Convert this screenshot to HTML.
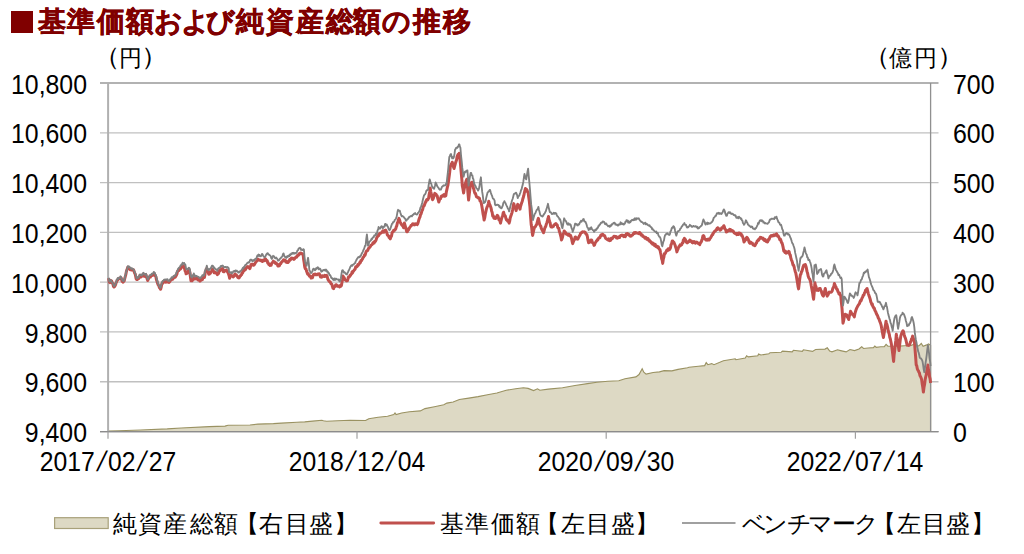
<!DOCTYPE html>
<html lang="ja"><head><meta charset="utf-8">
<style>
html,body{margin:0;padding:0;background:#fff;}
body{width:1024px;height:554px;position:relative;overflow:hidden;font-family:"Liberation Sans",sans-serif;color:#000;}
.sq{position:absolute;left:11px;top:11px;width:21.5px;height:21.5px;background:#800000;}
.yl{position:absolute;left:0;width:87px;text-align:right;font-size:27px;line-height:30px;transform:scaleX(0.92);transform-origin:87px 50%;}
.yr{position:absolute;left:952.5px;font-size:27px;line-height:30px;transform:scaleX(0.924);transform-origin:0 50%;}
.xl{position:absolute;top:447px;width:160px;text-align:center;font-size:27px;line-height:30px;white-space:nowrap;transform:scaleX(0.915);}
.sl{display:inline-block;width:14.4px;text-align:center;transform:scaleY(1.05) skewX(-16deg);}
svg{position:absolute;left:0;top:0;}
.grp{position:absolute;left:0;top:0;}
.c0{position:absolute;text-align:center;white-space:nowrap;top:0.0px;width:42px;height:44px;line-height:44px;font-size:28px;font-weight:bold;color:#800000;-webkit-text-stroke:0.5px #800000}
.c1{position:absolute;text-align:center;white-space:nowrap;top:504.6px;width:36px;height:38px;line-height:38px;font-size:24px;font-weight:normal;color:#000;}
.c2{position:absolute;text-align:center;white-space:nowrap;top:504.6px;width:36px;height:38px;line-height:38px;font-size:24px;font-weight:normal;color:#000;}
.c3{position:absolute;text-align:center;white-space:nowrap;top:504.6px;width:36px;height:38px;line-height:38px;font-size:24px;font-weight:normal;color:#000;}
.c4{position:absolute;text-align:center;white-space:nowrap;top:41.0px;width:33px;height:36px;line-height:36px;font-size:22.5px;font-weight:normal;color:#000;}
.c5{position:absolute;text-align:center;white-space:nowrap;top:41.1px;width:33px;height:36px;line-height:36px;font-size:22.5px;font-weight:normal;color:#000;}

.g{stroke:#c0c0c0;stroke-width:1.3;fill:none;}
.gt{stroke:#999;stroke-width:1.4;fill:none;}
.gb{stroke:#8c8c8c;stroke-width:1.3;fill:none;}
.ax{stroke:#b0b0b0;stroke-width:2;fill:none;}
.axr{stroke:#909090;stroke-width:1.3;fill:none;}
.tk{stroke:#a0a0a0;stroke-width:1.2;fill:none;}
</style></head><body>
<div class="sq"></div>
<div class="grp"><span class="c0" style="left:30.8px">基</span><span class="c0" style="left:60.3px">準</span><span class="c0" style="left:90.1px">価</span><span class="c0" style="left:118.5px">額</span><span class="c0" style="left:147.3px">お</span><span class="c0" style="left:174.9px">よ</span><span class="c0" style="left:199.6px">び</span><span class="c0" style="left:229.3px">純</span><span class="c0" style="left:259.3px">資</span><span class="c0" style="left:288.6px">産</span><span class="c0" style="left:318.6px">総</span><span class="c0" style="left:346.4px">額</span><span class="c0" style="left:375.6px">の</span><span class="c0" style="left:406.4px">推</span><span class="c0" style="left:436.0px">移</span></div>
<div class="grp"><span class="c1" style="left:107.3px">純</span><span class="c1" style="left:132.4px">資</span><span class="c1" style="left:157.1px">産</span><span class="c1" style="left:183.7px">総</span><span class="c1" style="left:207.5px">額</span><span class="c1" style="left:228.8px">【</span><span class="c1" style="left:252.9px">右</span><span class="c1" style="left:278.8px">目</span><span class="c1" style="left:303.4px">盛</span><span class="c1" style="left:327.9px">】</span></div>
<div class="grp"><span class="c2" style="left:434.2px">基</span><span class="c2" style="left:459.0px">準</span><span class="c2" style="left:485.0px">価</span><span class="c2" style="left:509.5px">額</span><span class="c2" style="left:529.3px">【</span><span class="c2" style="left:554.9px">左</span><span class="c2" style="left:580.1px">目</span><span class="c2" style="left:604.5px">盛</span><span class="c2" style="left:628.9px">】</span></div>
<div class="grp"><span class="c3" style="left:736.2px">ベ</span><span class="c3" style="left:757.1px">ン</span><span class="c3" style="left:781.0px">チ</span><span class="c3" style="left:802.0px">マ</span><span class="c3" style="left:825.9px">ー</span><span class="c3" style="left:848.9px">ク</span><span class="c3" style="left:866.0px">【</span><span class="c3" style="left:890.6px">左</span><span class="c3" style="left:916.0px">目</span><span class="c3" style="left:940.4px">盛</span><span class="c3" style="left:964.8px">】</span></div>
<div class="grp"><span class="c4" style="left:90.6px;transform:translateY(-1.2px) scale(1.2,1.1);transform-origin:22.0px 19.0px">（</span><span class="c4" style="left:113.9px">円</span><span class="c4" style="left:137.0px;transform:translateY(-1.2px) scale(1.2,1.1);transform-origin:11.0px 19.0px">）</span></div>
<div class="grp"><span class="c5" style="left:861.2px;transform:translateY(-1.2px) scale(1.2,1.1);transform-origin:22.0px 19.0px">（</span><span class="c5" style="left:884.1px">億</span><span class="c5" style="left:909.4px">円</span><span class="c5" style="left:932.5px;transform:translateY(-1.2px) scale(1.2,1.1);transform-origin:11.0px 19.0px">）</span></div>

<div class="yl" style="top:69.5px">10,800</div><div class="yr" style="top:69.5px">700</div><div class="yl" style="top:119.3px">10,600</div><div class="yr" style="top:119.3px">600</div><div class="yl" style="top:169.1px">10,400</div><div class="yr" style="top:169.1px">500</div><div class="yl" style="top:218.9px">10,200</div><div class="yr" style="top:218.9px">400</div><div class="yl" style="top:268.7px">10,000</div><div class="yr" style="top:268.7px">300</div><div class="yl" style="top:318.5px">9,800</div><div class="yr" style="top:318.5px">200</div><div class="yl" style="top:368.3px">9,600</div><div class="yr" style="top:368.3px">100</div><div class="yl" style="top:418.1px">9,400</div><div class="yr" style="top:418.1px">0</div>
<div class="xl" style="left:28.0px">2017<span class="sl">/</span>02<span class="sl">/</span>27</div><div class="xl" style="left:277.0px">2018<span class="sl">/</span>12<span class="sl">/</span>04</div><div class="xl" style="left:526.2px">2020<span class="sl">/</span>09<span class="sl">/</span>30</div><div class="xl" style="left:775.4px">2022<span class="sl">/</span>07<span class="sl">/</span>14</div>
<svg width="1024" height="554" viewBox="0 0 1024 554">
<line x1="100" y1="83.00" x2="938.5" y2="83.00" class="gt"/><line x1="100" y1="132.79" x2="938.5" y2="132.79" class="g"/><line x1="100" y1="182.59" x2="938.5" y2="182.59" class="g"/><line x1="100" y1="232.38" x2="938.5" y2="232.38" class="g"/><line x1="100" y1="282.17" x2="938.5" y2="282.17" class="g"/><line x1="100" y1="331.96" x2="938.5" y2="331.96" class="g"/><line x1="100" y1="381.76" x2="938.5" y2="381.76" class="g"/><line x1="100" y1="431.55" x2="938.5" y2="431.55" class="gb"/>
<path d="M108.1,431.55 L108.2,431.1 L118.8,430.8 L140.6,430.0 L167.2,428.9 L181.2,428.0 L209.4,426.6 L225.0,426.1 L228.1,425.3 L250.0,425.0 L257.8,424.1 L273.4,423.6 L281.2,423.1 L296.9,422.3 L304.7,421.9 L312.5,421.1 L321.9,420.3 L323.4,420.8 L326.6,421.2 L337.5,420.8 L350.0,420.3 L365.6,420.5 L368.8,418.8 L378.1,417.3 L387.5,416.2 L393.8,414.5 L395.0,413.0 L396.1,414.5 L401.6,413.0 L409.4,411.7 L420.3,410.9 L425.0,408.6 L434.4,406.7 L443.8,404.7 L446.9,403.1 L453.1,402.0 L459.4,399.5 L468.8,398.1 L478.1,396.6 L487.5,394.8 L496.9,393.0 L506.2,390.3 L515.6,388.8 L523.4,387.8 L528.1,388.4 L533.6,390.6 L537.5,388.8 L539.8,390.2 L548.4,389.1 L562.5,387.8 L575.0,385.5 L587.5,383.6 L596.9,382.3 L607.8,381.2 L618.8,380.8 L625.0,378.8 L635.9,376.9 L639.0,374.5 L642.2,368.8 L643.8,372.2 L646.1,374.1 L653.1,372.5 L659.4,371.9 L664.1,370.6 L671.9,370.9 L678.1,369.4 L687.5,367.8 L689.0,367.2 L698.4,366.2 L704.7,365.6 L706.2,362.5 L707.8,364.7 L711.7,363.6 L714.0,364.7 L723.4,360.8 L735.2,358.8 L735.9,359.7 L745.3,358.1 L746.6,355.8 L748.4,356.9 L757.8,355.8 L758.6,354.1 L760.9,355.0 L768.8,353.8 L770.0,352.7 L781.2,352.2 L782.5,351.1 L792.2,351.9 L793.4,350.3 L802.3,351.4 L803.4,349.8 L812.5,351.4 L815.6,349.5 L825.0,349.1 L827.3,347.8 L829.7,351.0 L832.0,351.9 L837.5,349.8 L840.6,350.6 L846.1,351.9 L850.0,349.5 L854.5,350.6 L859.0,349.0 L861.7,346.7 L863.5,348.5 L868.0,348.0 L873.5,347.6 L874.8,346.1 L876.2,347.3 L880.7,346.7 L884.3,346.7 L886.1,344.4 L887.9,346.2 L893.3,346.2 L899.6,346.1 L904.2,345.8 L911.4,345.5 L915.0,343.5 L918.6,346.1 L921.3,343.5 L923.1,346.2 L926.7,344.9 L928.5,344.0 L930.6,345.3 L930.6,431.55 Z" fill="#ddd9c4" stroke="none"/>
<path d="M108.1,431.55 L108.2,431.1 L118.8,430.8 L140.6,430.0 L167.2,428.9 L181.2,428.0 L209.4,426.6 L225.0,426.1 L228.1,425.3 L250.0,425.0 L257.8,424.1 L273.4,423.6 L281.2,423.1 L296.9,422.3 L304.7,421.9 L312.5,421.1 L321.9,420.3 L323.4,420.8 L326.6,421.2 L337.5,420.8 L350.0,420.3 L365.6,420.5 L368.8,418.8 L378.1,417.3 L387.5,416.2 L393.8,414.5 L395.0,413.0 L396.1,414.5 L401.6,413.0 L409.4,411.7 L420.3,410.9 L425.0,408.6 L434.4,406.7 L443.8,404.7 L446.9,403.1 L453.1,402.0 L459.4,399.5 L468.8,398.1 L478.1,396.6 L487.5,394.8 L496.9,393.0 L506.2,390.3 L515.6,388.8 L523.4,387.8 L528.1,388.4 L533.6,390.6 L537.5,388.8 L539.8,390.2 L548.4,389.1 L562.5,387.8 L575.0,385.5 L587.5,383.6 L596.9,382.3 L607.8,381.2 L618.8,380.8 L625.0,378.8 L635.9,376.9 L639.0,374.5 L642.2,368.8 L643.8,372.2 L646.1,374.1 L653.1,372.5 L659.4,371.9 L664.1,370.6 L671.9,370.9 L678.1,369.4 L687.5,367.8 L689.0,367.2 L698.4,366.2 L704.7,365.6 L706.2,362.5 L707.8,364.7 L711.7,363.6 L714.0,364.7 L723.4,360.8 L735.2,358.8 L735.9,359.7 L745.3,358.1 L746.6,355.8 L748.4,356.9 L757.8,355.8 L758.6,354.1 L760.9,355.0 L768.8,353.8 L770.0,352.7 L781.2,352.2 L782.5,351.1 L792.2,351.9 L793.4,350.3 L802.3,351.4 L803.4,349.8 L812.5,351.4 L815.6,349.5 L825.0,349.1 L827.3,347.8 L829.7,351.0 L832.0,351.9 L837.5,349.8 L840.6,350.6 L846.1,351.9 L850.0,349.5 L854.5,350.6 L859.0,349.0 L861.7,346.7 L863.5,348.5 L868.0,348.0 L873.5,347.6 L874.8,346.1 L876.2,347.3 L880.7,346.7 L884.3,346.7 L886.1,344.4 L887.9,346.2 L893.3,346.2 L899.6,346.1 L904.2,345.8 L911.4,345.5 L915.0,343.5 L918.6,346.1 L921.3,343.5 L923.1,346.2 L926.7,344.9 L928.5,344.0 L930.6,345.3 L930.6,431.55" fill="none" stroke="#9a9262" stroke-width="1.15"/>
<line x1="108.1" y1="83.0" x2="108.1" y2="431.55" class="ax"/>
<line x1="930.6" y1="83.0" x2="930.6" y2="431.55" class="axr"/>
<line x1="100" y1="431.55" x2="938.5" y2="431.55" class="gb"/>
<line x1="108.0" y1="431.55" x2="108.0" y2="438.8" class="tk"/><line x1="357.0" y1="431.55" x2="357.0" y2="438.8" class="tk"/><line x1="606.2" y1="431.55" x2="606.2" y2="438.8" class="tk"/><line x1="855.4" y1="431.55" x2="855.4" y2="438.8" class="tk"/>
<polyline points="108.6,278.3 109.4,282.2 109.9,282.6 110.4,282.0 110.9,280.6 111.6,281.0 112.2,283.0 112.8,283.5 113.4,286.3 114.0,287.0 114.5,286.6 115.1,285.7 115.6,284.6 116.1,282.7 116.7,281.7 117.2,280.0 117.8,279.8 118.3,279.4 118.9,278.2 119.5,278.5 120.0,278.1 120.5,277.8 121.0,277.8 121.6,279.5 122.1,281.3 122.7,281.6 123.2,282.2 123.7,281.2 124.2,280.9 124.7,278.7 125.3,276.3 125.8,274.6 126.3,271.9 126.8,270.0 127.3,269.0 127.8,267.2 128.4,267.3 129.1,267.8 129.7,268.5 130.2,269.7 130.7,269.5 131.2,270.0 131.9,270.0 132.5,269.3 133.1,269.8 133.6,270.0 134.2,271.8 134.7,273.2 135.2,274.1 135.7,276.4 136.2,278.9 136.7,279.5 137.2,279.6 137.8,278.4 138.3,278.8 138.8,278.5 139.3,277.3 139.8,275.6 140.3,276.4 140.9,277.0 141.4,276.5 141.9,276.2 142.5,275.5 143.0,274.2 143.5,274.4 144.0,276.1 144.5,275.7 145.0,276.3 145.6,274.6 146.1,275.0 146.6,277.3 147.2,279.0 147.7,280.5 148.2,279.3 148.7,278.4 149.2,277.3 149.8,276.7 150.4,277.0 151.0,275.6 151.6,275.1 152.2,275.5 152.7,274.3 153.3,275.1 153.8,274.9 154.4,273.9 154.9,274.7 155.4,275.9 155.9,276.7 156.4,279.6 157.0,281.3 157.5,283.0 158.1,284.6 158.8,285.6 159.4,287.7 160.0,288.2 160.6,289.3 161.1,287.6 161.7,284.5 162.2,283.1 162.8,283.3 163.4,281.4 164.0,281.2 164.6,282.0 165.2,280.9 165.8,282.1 166.4,281.3 167.0,281.9 167.6,281.9 168.2,282.2 168.8,282.4 169.3,282.1 169.9,281.4 170.5,280.3 171.1,280.1 171.7,278.9 172.2,278.9 172.8,279.2 173.4,277.8 174.0,277.6 174.6,276.2 175.2,277.2 175.8,276.2 176.4,275.2 176.9,274.1 177.5,271.4 178.1,270.5 178.7,270.6 179.4,268.9 180.0,269.4 180.6,268.9 181.2,267.3 181.8,266.4 182.4,266.1 183.0,267.1 183.5,265.9 184.1,266.9 184.6,268.7 185.1,271.0 185.6,271.6 186.1,273.8 186.6,272.6 187.2,273.2 187.7,271.8 188.2,271.0 188.8,270.9 189.3,269.8 189.9,272.5 190.4,276.8 191.0,280.7 191.6,280.1 192.2,280.7 192.7,280.0 193.3,277.8 193.8,277.5 194.4,279.0 195.0,278.7 195.5,277.7 196.1,278.9 196.6,277.5 197.1,278.3 197.7,278.4 198.2,280.0 198.8,279.3 199.3,279.9 199.9,281.1 200.4,281.0 200.9,279.9 201.4,278.7 201.9,279.1 202.4,279.7 202.9,277.8 203.4,277.3 203.9,277.5 204.4,277.5 204.9,274.9 205.3,271.8 205.8,271.2 206.3,268.9 206.8,268.6 207.3,269.7 207.8,270.5 208.3,272.7 208.8,274.2 209.3,274.1 209.9,273.5 210.4,273.2 210.9,271.8 211.4,271.4 212.0,270.6 212.5,269.0 213.0,270.6 213.6,271.3 214.1,272.6 214.6,272.1 215.2,272.9 215.7,272.6 216.3,273.0 216.8,273.2 217.4,274.7 217.9,273.6 218.5,273.5 219.0,271.8 219.5,270.5 220.0,270.8 220.5,269.8 221.0,269.4 221.6,269.0 222.2,268.6 222.8,269.0 223.3,271.6 223.9,271.8 224.4,270.8 225.0,270.9 225.5,270.2 226.0,270.4 226.5,270.1 227.0,271.5 227.5,271.8 228.0,272.7 228.6,274.2 229.1,275.8 229.6,278.3 230.1,276.6 230.7,275.4 231.2,275.1 231.7,275.9 232.3,276.2 232.8,276.7 233.3,277.0 233.8,276.3 234.3,275.8 234.8,274.2 235.3,274.1 235.9,274.9 236.4,275.0 236.9,275.9 237.4,276.7 238.0,277.5 238.5,277.9 239.0,278.0 239.5,277.3 240.0,275.9 240.5,275.9 241.0,275.0 241.6,274.5 242.1,272.8 242.6,273.0 243.1,271.2 243.7,271.0 244.2,270.2 244.7,269.1 245.3,269.8 245.8,269.0 246.3,267.8 246.9,266.8 247.4,266.9 247.9,266.6 248.4,267.1 248.9,267.4 249.4,268.3 249.9,268.6 250.5,266.5 251.1,264.5 251.6,264.2 252.1,265.0 252.6,264.3 253.1,264.9 253.6,265.3 254.1,265.0 254.6,264.1 255.1,263.3 255.7,262.3 256.2,261.7 256.8,260.8 257.3,260.6 257.9,259.1 258.4,259.6 258.9,259.7 259.5,260.2 260.0,260.4 260.6,260.1 261.1,260.2 261.7,261.2 262.3,261.5 262.8,260.3 263.4,260.3 263.9,260.7 264.5,259.8 265.0,258.8 265.6,258.9 266.1,260.7 266.7,260.5 267.2,260.7 267.7,262.9 268.2,262.7 268.8,264.4 269.3,264.2 269.9,265.4 270.5,265.3 271.1,265.2 271.7,263.3 272.2,263.1 272.8,262.1 273.4,261.2 274.0,261.8 274.6,261.9 275.2,263.2 275.8,263.6 276.3,263.2 276.8,264.0 277.4,264.5 277.9,266.0 278.4,264.7 278.9,265.9 279.5,265.6 280.1,263.8 280.7,263.7 281.2,262.8 281.8,261.8 282.4,261.2 283.0,261.0 283.6,259.7 284.2,260.1 284.8,260.1 285.3,260.7 285.9,262.0 286.4,261.1 287.0,262.4 287.5,261.9 288.0,262.4 288.6,261.7 289.1,261.2 289.7,259.6 290.2,260.0 290.8,259.4 291.4,258.1 291.9,258.7 292.4,258.4 292.9,258.2 293.5,258.6 294.0,259.3 294.5,258.9 295.0,257.8 295.6,257.6 296.1,256.9 296.6,257.2 297.2,256.2 297.7,255.0 298.3,255.4 298.9,254.8 299.4,253.4 300.0,253.4 300.5,253.0 301.0,253.6 301.6,253.3 302.1,253.8 302.6,254.4 303.1,254.2 303.6,259.2 304.2,262.7 304.7,266.7 305.3,268.7 305.9,268.7 306.4,270.6 307.0,272.2 307.6,274.1 308.2,273.5 308.8,275.0 309.4,276.1 310.0,275.7 310.5,276.1 311.1,278.1 311.7,277.7 312.3,277.8 312.9,276.4 313.5,274.6 314.1,274.5 314.7,274.1 315.2,274.0 315.8,274.8 316.4,274.5 317.0,274.7 317.6,274.0 318.2,274.0 318.8,273.8 319.3,273.8 319.9,275.4 320.5,277.0 321.1,276.9 321.7,277.2 322.2,275.7 322.8,276.3 323.4,276.1 323.9,276.4 324.5,275.4 325.0,276.5 325.5,275.5 326.1,275.8 326.6,275.3 327.2,276.5 327.8,279.0 328.3,280.0 328.9,280.8 329.5,281.7 330.1,281.7 330.7,283.0 331.2,283.9 331.8,284.2 332.4,286.4 333.0,288.2 333.6,288.6 334.2,287.0 334.8,286.7 335.3,285.6 335.9,284.7 336.4,284.8 337.0,285.6 337.5,286.3 338.0,286.1 338.6,285.9 339.1,286.2 339.7,286.9 340.2,285.6 340.8,286.2 341.4,285.5 341.9,282.7 342.5,279.7 343.0,276.1 343.6,277.7 344.1,277.5 344.7,279.3 345.3,280.0 345.8,280.1 346.4,280.9 346.9,280.8 347.4,280.8 347.9,279.2 348.4,277.1 349.0,277.1 349.5,276.6 350.0,275.3 350.5,275.4 351.0,274.3 351.6,274.0 352.1,271.8 352.6,272.9 353.1,271.4 353.6,271.1 354.2,270.0 354.7,269.8 355.2,269.0 355.7,266.7 356.2,266.7 356.8,266.8 357.3,266.2 357.8,264.6 358.3,265.1 358.9,264.3 359.4,263.6 359.9,262.2 360.4,262.6 360.9,260.6 361.5,260.7 362.0,259.6 362.5,258.9 363.0,257.5 363.5,257.2 364.1,256.1 364.6,254.7 365.1,255.2 365.6,253.4 366.1,251.7 366.7,250.7 367.2,250.7 367.7,250.4 368.2,249.2 368.8,248.0 369.3,248.0 369.8,246.9 370.3,246.7 370.8,245.6 371.4,244.9 371.9,244.8 372.4,244.3 372.9,242.9 373.4,242.5 374.0,243.2 374.5,241.6 375.0,241.7 375.6,241.0 376.1,239.8 376.7,237.9 377.2,237.2 377.8,235.6 378.4,235.7 378.9,235.4 379.5,233.6 380.0,233.2 380.6,233.2 381.1,232.9 381.7,232.5 382.3,231.8 382.8,230.9 383.4,231.6 383.9,232.1 384.5,230.6 385.0,230.6 385.6,230.2 386.2,231.3 386.8,232.8 387.4,235.0 388.0,235.6 388.6,236.0 389.1,237.5 389.7,237.9 390.3,238.8 390.9,237.1 391.5,236.0 392.1,232.7 392.7,231.7 393.2,231.8 393.7,230.3 394.2,230.4 394.8,230.2 395.3,229.4 395.8,228.6 396.3,226.7 396.8,225.8 397.4,222.7 397.9,222.1 398.4,219.9 398.9,218.4 399.5,219.8 400.1,221.8 400.7,223.1 401.2,223.9 401.8,225.1 402.4,225.5 403.0,226.3 403.6,227.8 404.4,223.1 405.0,225.2 405.5,226.9 406.1,229.1 406.7,231.7 407.3,231.8 407.9,229.4 408.5,230.0 409.1,228.6 409.6,227.7 410.1,227.0 410.6,226.3 411.2,225.2 411.7,225.3 412.2,224.7 412.7,223.9 413.2,224.3 413.8,223.9 414.3,224.9 414.8,224.8 415.3,223.9 415.9,223.8 416.5,224.2 417.1,224.7 417.7,223.9 418.3,221.8 418.9,219.6 419.4,218.2 420.0,216.9 420.5,214.7 421.0,214.1 421.6,212.0 422.1,210.4 422.6,209.6 423.1,207.5 423.6,205.8 424.2,205.8 424.7,204.3 425.2,202.6 425.7,202.3 426.2,200.5 426.8,199.6 427.4,200.0 428.0,199.5 428.6,198.1 429.1,194.7 429.7,191.7 430.2,188.0 430.8,191.8 431.4,194.3 431.9,197.3 432.5,199.7 433.1,198.8 433.6,197.4 434.2,195.5 434.8,193.4 435.4,194.9 436.0,194.2 436.6,195.4 437.2,195.8 437.7,198.2 438.2,199.7 438.8,202.0 439.3,200.5 439.9,198.7 440.5,198.8 441.1,196.6 441.7,195.9 442.2,195.8 442.8,196.1 443.4,195.0 444.0,194.6 444.6,196.3 445.2,194.9 445.8,195.8 446.3,192.1 446.8,189.9 447.4,187.1 447.9,185.4 448.4,181.8 449.0,177.5 449.7,172.2 450.3,166.6 450.9,165.0 451.6,163.7 452.2,162.2 452.8,163.8 453.5,167.0 454.1,168.5 454.7,166.0 455.4,163.4 456.0,161.5 456.6,159.7 457.1,156.6 457.7,155.2 458.2,154.2 458.7,154.7 459.2,153.3 459.7,157.0 460.2,161.5 460.7,166.6 461.2,172.4 461.8,178.8 462.3,185.6 463.0,189.2 463.6,193.1 464.2,188.9 464.9,185.6 465.5,183.1 466.2,180.8 466.8,179.2 467.4,185.7 468.0,193.3 468.6,200.1 469.3,194.1 469.9,188.5 470.6,183.0 471.2,183.5 471.8,182.2 472.4,183.0 472.9,184.5 473.4,188.1 473.9,189.5 474.4,191.9 474.9,193.4 475.4,193.2 475.9,194.9 476.4,196.6 476.9,196.9 477.4,196.9 477.9,197.9 478.4,197.9 478.9,197.7 479.4,198.2 480.0,200.8 480.7,201.4 481.3,203.2 481.9,206.6 482.5,210.0 483.0,213.6 483.6,216.3 484.1,220.0 484.7,217.9 485.2,214.7 485.8,212.0 486.4,209.1 487.0,207.2 487.6,206.1 488.2,204.1 488.8,201.2 489.3,203.7 489.9,204.7 490.5,206.4 491.1,208.3 491.6,210.9 492.2,212.6 492.7,216.1 493.3,215.9 493.9,218.2 494.4,217.1 495.0,218.4 495.6,218.5 496.1,217.2 496.7,216.9 497.3,215.3 497.8,215.8 498.4,217.5 498.9,219.8 499.4,219.6 500.0,221.1 500.5,223.1 501.0,221.0 501.5,218.8 502.1,217.0 502.6,216.2 503.1,213.2 503.6,212.2 504.2,214.6 504.8,215.6 505.3,216.0 505.9,218.4 506.4,219.9 507.0,219.5 507.5,220.7 508.0,221.6 508.6,221.6 509.1,223.1 509.7,221.0 510.2,218.0 510.8,216.1 511.4,214.5 512.0,212.6 512.6,209.7 513.2,206.4 513.8,203.6 514.3,205.7 514.9,207.8 515.5,208.2 516.1,210.6 516.6,208.5 517.2,205.8 517.7,204.4 518.3,204.9 518.9,206.1 519.4,207.5 520.0,209.2 520.5,206.4 521.1,204.7 521.6,203.0 522.2,201.5 522.7,199.3 523.2,197.8 523.8,195.7 524.3,193.2 524.9,190.7 525.4,188.5 525.9,190.0 526.5,189.3 527.0,189.9 527.6,192.0 528.1,192.1 528.7,197.1 529.3,201.1 529.9,206.5 530.5,215.3 531.2,224.6 531.7,227.8 532.1,231.7 532.6,235.4 533.2,232.6 533.8,229.8 534.4,227.3 535.0,227.2 535.5,226.5 536.0,225.4 536.6,224.6 537.2,222.4 537.8,220.0 538.4,218.3 539.0,221.2 539.6,224.0 540.2,225.5 540.8,226.2 541.3,228.3 541.9,229.5 542.4,230.6 543.0,230.6 543.5,232.7 544.0,231.2 544.6,228.9 545.1,227.3 545.7,226.4 546.2,224.6 546.8,222.9 547.4,220.8 547.9,219.0 548.5,216.5 549.0,219.4 549.6,221.4 550.2,223.1 550.7,226.4 551.2,226.9 551.8,227.0 552.3,227.0 552.9,226.6 553.4,226.4 553.9,225.0 554.5,224.7 555.0,224.0 555.6,224.5 556.1,223.7 556.6,224.7 557.2,224.9 557.7,227.3 558.3,228.2 558.8,228.2 559.3,231.3 559.9,232.8 560.4,234.8 561.0,237.0 561.5,239.9 562.0,238.7 562.6,236.7 563.1,234.1 563.7,233.5 564.2,230.9 564.8,231.8 565.3,232.2 565.9,232.9 566.4,234.2 567.0,234.5 567.5,234.5 568.0,235.1 568.5,234.2 569.1,235.4 569.6,234.7 570.1,236.1 570.6,235.4 571.1,236.9 571.7,239.2 572.2,241.6 572.7,243.6 573.3,241.8 573.9,240.4 574.5,239.6 575.1,237.2 575.6,237.0 576.2,238.4 576.7,238.6 577.3,239.2 577.8,239.0 578.3,238.0 578.8,237.1 579.3,236.0 579.9,235.3 580.4,234.0 580.9,233.0 581.4,232.7 581.9,232.5 582.5,231.8 583.0,232.1 583.6,232.1 584.1,231.8 584.6,232.0 585.2,232.3 585.7,233.6 586.3,234.6 586.8,234.5 587.4,236.7 588.0,240.2 588.6,242.7 589.1,242.4 589.7,242.3 590.2,241.4 590.8,240.1 591.3,239.9 591.8,240.4 592.4,242.7 592.9,242.8 593.5,243.4 594.0,245.4 594.5,245.2 595.1,243.0 595.6,242.3 596.2,241.4 596.8,240.8 597.3,239.7 597.8,239.9 598.3,238.6 598.8,238.1 599.4,237.4 599.9,237.6 600.4,236.3 600.9,235.0 601.5,235.7 602.0,234.5 602.6,234.2 603.1,234.5 603.6,235.3 604.1,235.5 604.6,235.6 605.2,237.2 605.7,238.5 606.2,238.6 606.7,239.0 607.2,239.1 607.7,239.8 608.2,240.2 608.8,238.9 609.3,239.3 609.8,240.7 610.3,239.9 610.8,240.2 611.3,238.3 611.8,238.7 612.4,238.6 612.9,237.5 613.4,237.2 613.9,236.3 614.4,236.6 614.9,236.3 615.4,236.5 616.0,236.5 616.5,237.9 617.0,237.2 617.5,238.1 618.0,237.9 618.5,237.1 619.0,236.8 619.6,237.5 620.1,236.0 620.6,235.7 621.1,235.4 621.6,235.3 622.1,235.1 622.6,235.3 623.2,236.0 623.7,236.6 624.2,235.4 624.7,236.3 625.3,236.6 625.8,235.6 626.4,233.8 626.9,234.5 627.5,233.6 628.0,234.0 628.6,234.7 629.1,234.5 629.7,235.8 630.2,236.3 630.7,236.0 631.2,236.1 631.7,235.3 632.3,235.1 632.8,234.8 633.3,233.5 633.8,233.6 634.3,232.6 634.9,233.4 635.4,232.6 636.0,232.6 636.5,232.8 637.0,233.1 637.6,233.2 638.1,233.2 638.7,233.6 639.2,232.7 639.7,232.5 640.2,233.8 640.7,233.5 641.3,235.1 641.8,235.2 642.3,235.1 642.8,236.3 643.3,236.2 643.8,237.1 644.3,237.0 644.9,238.2 645.4,237.3 645.9,237.5 646.4,238.1 646.9,239.3 647.4,239.1 647.9,238.5 648.5,240.2 649.0,239.8 649.5,241.3 650.0,240.8 650.5,241.6 651.0,242.4 651.5,243.1 652.1,242.9 652.6,244.3 653.1,243.1 653.6,244.5 654.1,244.5 654.6,245.7 655.2,244.3 655.7,245.9 656.2,246.7 656.7,246.5 657.2,246.3 657.8,247.7 658.4,246.9 658.9,248.5 659.5,249.4 660.0,249.9 660.5,252.5 661.1,255.1 661.6,258.6 662.2,260.1 662.7,263.4 663.3,259.2 663.9,257.0 664.5,253.5 665.0,253.7 665.6,252.7 666.1,251.7 666.7,250.2 667.2,249.9 667.7,250.5 668.3,248.7 668.8,248.9 669.4,249.7 669.9,249.0 670.5,247.7 671.0,244.8 671.6,243.8 672.2,241.0 672.8,241.0 673.4,242.6 673.9,242.3 674.5,243.8 675.1,245.3 675.7,247.3 676.3,248.9 676.9,251.9 677.4,250.4 678.0,249.2 678.5,247.4 679.0,246.5 679.5,246.4 680.1,244.9 680.6,245.5 681.2,245.1 681.7,244.7 682.2,243.2 682.8,242.9 683.3,240.2 683.9,239.4 684.4,238.3 685.0,239.1 685.5,239.9 686.1,242.0 686.6,242.1 687.2,242.9 687.7,242.4 688.3,241.7 688.8,241.1 689.4,241.5 689.9,240.1 690.4,241.2 691.0,241.5 691.5,241.1 692.1,242.5 692.6,242.9 693.1,242.1 693.6,242.4 694.1,241.6 694.7,242.8 695.2,243.2 695.7,242.4 696.2,242.0 696.7,242.5 697.2,242.3 697.7,243.0 698.3,243.5 698.8,243.8 699.3,243.9 699.8,244.7 700.3,242.9 700.8,242.6 701.3,241.7 701.9,240.1 702.4,238.4 702.9,236.0 703.4,235.6 703.9,236.1 704.5,238.0 705.0,239.2 705.6,239.3 706.1,240.1 706.6,240.1 707.1,240.2 707.6,239.2 708.2,240.0 708.7,239.2 709.2,240.0 709.7,239.2 710.2,238.2 710.7,237.7 711.2,236.6 711.8,235.7 712.3,234.6 712.8,234.7 713.3,232.9 713.8,232.7 714.4,231.5 714.9,231.0 715.4,231.1 715.9,230.2 716.5,229.3 717.0,228.4 717.5,229.4 718.0,227.9 718.5,229.0 719.1,229.2 719.6,229.0 720.1,230.1 720.6,229.3 721.1,229.6 721.7,227.9 722.2,227.7 722.7,227.4 723.3,226.7 723.8,225.7 724.3,226.7 724.8,228.8 725.3,229.2 725.8,230.1 726.3,232.0 726.8,231.9 727.4,231.4 728.0,230.5 728.5,230.2 729.0,230.7 729.6,229.3 730.1,230.1 730.6,229.6 731.1,230.9 731.7,230.5 732.2,230.4 732.7,231.1 733.2,231.1 733.7,232.2 734.2,232.9 734.7,233.0 735.3,233.5 735.8,233.5 736.3,233.3 736.8,234.7 737.3,234.3 737.9,233.2 738.4,234.5 739.0,233.0 739.5,232.9 740.0,233.6 740.6,234.4 741.1,233.9 741.7,235.7 742.2,235.6 742.8,237.4 743.4,239.1 744.0,242.0 744.5,241.3 745.1,240.0 745.6,240.0 746.2,238.2 746.8,237.4 747.3,237.7 747.9,238.7 748.4,239.8 749.0,241.8 749.5,242.9 750.0,243.3 750.6,242.0 751.1,242.6 751.7,242.9 752.2,242.9 752.7,244.2 753.3,244.9 753.8,245.2 754.4,245.3 754.9,245.6 755.4,244.8 756.0,243.2 756.5,243.1 757.1,241.3 757.6,241.0 758.1,239.9 758.7,240.2 759.2,239.0 759.8,238.5 760.3,237.4 760.8,237.6 761.3,237.5 761.8,238.2 762.4,238.6 762.9,238.2 763.4,239.6 763.9,239.2 764.4,240.5 764.9,239.4 765.4,239.9 766.0,241.4 766.5,241.6 767.0,241.1 767.5,242.0 768.0,241.1 768.6,239.3 769.1,239.4 769.7,237.8 770.2,236.5 770.7,236.4 771.2,235.6 771.7,235.9 772.3,235.9 772.8,235.6 773.3,235.1 773.8,235.6 774.3,234.7 774.9,235.3 775.4,235.3 776.0,234.8 776.5,233.8 777.1,234.9 777.6,236.2 778.2,235.8 778.7,236.8 779.3,238.3 779.8,239.6 780.4,239.2 780.9,240.3 781.5,242.5 782.0,242.9 782.6,245.0 783.2,247.7 783.8,251.0 784.3,251.2 784.9,252.4 785.4,251.1 786.0,253.2 786.5,252.8 787.0,252.2 787.6,252.6 788.1,252.2 788.7,251.4 789.2,251.9 789.7,254.6 790.3,254.9 790.8,257.9 791.4,259.8 791.9,260.9 792.4,262.4 793.0,265.0 793.5,264.9 794.1,266.7 794.6,269.0 795.2,271.4 795.8,273.1 796.4,276.3 797.0,280.0 797.5,282.7 798.0,286.3 798.6,288.9 799.2,283.7 799.8,278.4 800.4,274.5 800.9,274.2 801.4,271.9 801.9,271.4 802.5,269.1 803.2,266.5 803.8,265.1 804.3,265.1 804.8,264.6 805.3,264.5 805.9,266.2 806.4,268.2 807.0,271.4 807.6,273.2 808.2,276.2 808.8,277.8 809.4,278.6 810.1,280.2 810.7,282.2 811.3,286.0 812.0,289.6 812.6,292.9 813.1,296.6 813.6,299.2 814.3,291.3 814.9,282.8 815.4,285.6 815.9,286.3 816.4,289.1 817.0,290.3 817.7,289.1 818.3,290.4 818.9,289.0 819.6,288.4 820.2,288.5 820.7,290.3 821.3,291.0 821.8,293.1 822.3,294.5 822.9,295.7 823.4,296.1 824.0,293.8 824.7,290.8 825.3,288.5 825.9,291.9 826.6,294.0 827.2,296.1 827.7,294.8 828.2,294.7 828.7,292.9 829.2,292.1 829.7,292.3 830.2,292.3 830.7,292.2 831.2,292.2 831.7,291.7 832.2,291.0 832.8,288.4 833.3,287.7 833.9,286.2 834.4,283.4 835.0,285.2 835.5,286.2 836.1,287.3 836.6,289.1 837.3,289.3 837.9,291.5 838.5,292.3 839.0,294.0 839.6,293.1 840.2,295.2 840.7,295.4 841.4,302.5 842.0,308.1 842.5,315.4 843.0,323.2 843.6,320.9 844.3,316.7 844.9,314.4 845.5,314.2 846.2,314.9 846.8,315.0 847.4,317.2 848.1,318.1 848.7,319.5 849.3,316.0 849.9,314.8 850.5,311.2 851.2,312.4 851.8,313.9 852.5,314.4 853.1,314.7 853.7,315.8 854.3,316.9 854.9,313.6 855.6,311.2 856.2,309.3 856.8,307.9 857.5,306.6 858.1,305.6 858.7,304.6 859.4,303.7 860.0,301.8 860.5,300.6 861.0,300.8 861.6,299.4 862.1,297.9 862.6,297.3 863.2,295.2 863.9,295.2 864.5,292.9 865.0,292.3 865.5,290.3 866.0,290.6 866.5,289.1 867.0,288.5 867.6,290.7 868.3,293.6 868.9,295.4 869.5,297.0 870.2,299.2 870.8,301.8 871.3,302.9 871.8,304.6 872.3,304.0 872.8,306.4 873.3,306.8 873.8,308.2 874.3,308.2 874.8,310.2 875.3,311.1 875.8,311.9 876.3,313.6 876.8,314.5 877.4,315.3 877.9,316.9 878.4,318.2 879.0,319.0 879.5,320.7 880.0,321.9 880.6,323.4 881.2,325.5 881.7,328.5 882.3,331.6 882.8,334.5 883.4,337.5 883.9,334.4 884.4,331.4 885.0,327.3 885.5,324.6 886.0,321.2 886.5,323.1 887.1,325.0 887.6,327.0 888.2,330.7 888.8,332.9 889.3,334.2 889.8,337.4 890.3,338.7 890.8,341.2 891.3,343.6 891.8,346.9 892.4,351.4 893.0,356.4 893.6,361.4 894.1,355.0 894.7,350.4 895.2,345.5 895.8,340.4 896.3,334.3 896.8,337.0 897.4,339.8 897.9,344.6 898.5,347.0 899.0,350.5 899.6,345.3 900.2,340.2 900.8,336.1 901.3,334.3 901.9,333.0 902.5,331.6 903.0,330.7 903.6,332.0 904.1,334.3 904.7,336.7 905.3,337.9 905.9,339.9 906.5,342.5 907.1,345.1 907.7,344.9 908.2,345.4 908.8,345.1 909.3,345.3 909.9,344.2 910.4,342.0 911.0,341.5 911.5,338.9 912.1,337.9 912.6,336.1 913.2,338.0 913.8,339.8 914.4,341.5 915.0,349.0 915.6,356.4 916.2,365.0 916.7,365.5 917.3,368.7 917.8,370.1 918.4,370.7 918.9,372.2 919.4,372.9 920.0,375.7 920.5,376.5 921.1,377.9 921.6,379.4 922.2,383.9 922.8,387.2 923.4,392.1 924.0,387.3 924.6,384.2 925.2,379.4 925.7,377.0 926.3,374.6 926.8,370.6 927.4,368.8 927.9,365.0 928.4,369.3 929.0,372.2 929.5,376.5 930.1,378.8 930.6,383.0" fill="none" stroke="#c0504d" stroke-width="3.0" stroke-linejoin="round"/>
<polyline points="108.6,277.7 109.4,281.6 109.9,280.4 110.4,281.2 110.9,280.0 111.6,281.7 112.2,282.3 112.8,283.2 113.4,284.9 114.0,286.2 114.5,285.4 115.1,285.0 115.6,283.9 116.1,282.9 116.7,280.0 117.2,279.2 117.8,277.9 118.3,279.1 118.9,277.9 119.5,277.7 120.0,278.0 120.5,276.3 121.0,277.0 121.6,278.2 122.1,280.0 122.7,280.8 123.2,280.0 123.7,281.1 124.2,280.0 124.7,278.7 125.3,274.9 125.8,273.8 126.3,271.0 126.8,270.1 127.3,269.0 127.8,266.2 128.4,266.4 129.1,266.5 129.7,267.5 130.2,267.9 130.7,267.6 131.2,269.0 131.9,268.4 132.5,268.7 133.1,268.8 133.6,269.9 134.2,270.5 134.7,272.2 135.2,273.2 135.7,274.8 136.2,276.8 136.7,278.4 137.2,277.8 137.8,277.0 138.3,277.7 138.8,277.3 139.3,275.7 139.8,274.5 140.3,275.0 140.9,274.4 141.4,275.3 141.9,275.5 142.5,274.5 143.0,273.0 143.5,272.8 144.0,273.7 144.5,274.5 145.0,274.7 145.6,274.4 146.1,273.8 146.6,276.4 147.2,277.2 147.7,279.2 148.2,278.8 148.7,277.4 149.2,276.0 149.8,275.1 150.4,275.0 151.0,275.0 151.6,273.8 152.2,274.2 152.7,273.3 153.3,273.2 153.8,271.9 154.4,272.5 154.9,272.9 155.4,274.9 155.9,275.3 156.4,277.2 157.0,278.9 157.5,281.6 158.1,283.2 158.8,285.1 159.4,286.2 160.0,287.4 160.6,287.8 161.1,285.5 161.7,283.6 162.2,281.6 162.8,281.0 163.4,280.9 164.0,279.7 164.6,279.7 165.2,279.5 165.8,279.7 166.4,279.7 167.0,279.1 167.6,279.4 168.2,280.9 168.8,280.8 169.3,281.1 169.9,279.8 170.5,278.8 171.1,278.4 171.7,277.2 172.2,277.3 172.8,277.6 173.4,276.1 174.0,276.2 174.6,275.4 175.2,275.6 175.8,274.5 176.4,272.6 176.9,271.7 177.5,271.0 178.1,268.8 178.7,268.3 179.4,267.4 180.0,266.9 180.5,265.5 181.1,265.1 181.6,264.1 182.1,264.7 182.6,262.7 183.1,263.9 183.6,263.7 184.1,262.9 184.7,264.4 185.3,264.5 186.1,268.6 186.7,269.3 187.3,269.0 187.8,269.2 188.4,268.2 188.9,267.7 189.7,268.6 190.3,272.8 191.0,276.7 191.6,277.0 192.2,277.5 192.7,275.3 193.3,275.5 193.8,273.4 194.4,275.2 195.0,276.7 195.6,275.7 196.2,275.9 196.8,276.2 197.3,276.4 197.9,276.7 198.4,276.8 198.9,277.2 199.4,278.0 199.9,278.3 200.4,278.0 200.9,277.5 201.4,276.7 201.9,276.3 202.4,275.2 202.9,275.4 203.5,275.1 204.0,275.5 204.6,273.0 205.2,270.2 205.7,269.4 206.3,267.8 206.8,265.7 207.3,267.8 207.9,269.3 208.4,270.2 209.0,269.2 209.5,269.8 210.1,268.6 210.7,268.3 211.3,267.3 211.9,265.7 212.5,265.7 213.1,266.0 213.7,268.2 214.3,267.5 214.9,268.6 215.5,269.5 216.1,269.4 216.8,269.7 217.4,271.0 218.0,268.9 218.6,268.2 219.1,268.1 219.7,267.3 220.2,267.3 220.7,266.1 221.2,265.9 221.7,266.2 222.2,265.7 222.7,265.5 223.2,266.1 223.8,267.3 224.3,267.3 224.9,267.0 225.5,266.9 226.0,266.8 226.6,267.4 227.1,267.7 227.6,267.0 228.2,267.8 228.7,268.2 229.1,272.2 229.7,272.3 230.2,272.1 230.8,273.0 231.3,272.1 231.9,273.5 232.4,272.6 232.9,272.2 233.4,271.2 233.9,271.6 234.4,271.0 235.0,271.7 235.5,270.4 236.1,271.4 236.6,270.6 237.2,271.0 237.7,271.8 238.3,272.6 238.9,272.6 239.4,271.4 240.0,271.9 240.5,271.0 241.0,270.8 241.6,270.0 242.1,269.4 242.7,268.0 243.2,268.6 243.8,266.9 244.3,267.0 244.8,265.9 245.3,264.9 245.8,264.9 246.3,264.5 246.9,263.4 247.4,262.9 247.9,262.8 248.4,262.2 249.0,262.5 249.5,262.1 250.1,260.0 250.7,259.6 251.3,259.6 251.9,260.4 252.4,261.3 252.9,261.1 253.4,260.0 253.9,260.4 254.4,260.5 255.0,259.0 255.5,258.8 256.0,258.9 256.5,257.8 257.0,256.5 257.5,255.4 258.0,255.2 258.5,254.5 259.0,256.3 259.5,254.9 260.0,256.0 260.5,256.2 261.0,256.2 261.5,255.1 262.0,253.9 262.5,254.2 263.1,255.7 263.6,256.7 264.2,256.9 264.8,257.3 265.4,256.3 266.0,255.1 266.6,254.1 267.2,253.4 267.8,253.2 268.4,254.5 268.9,254.5 269.5,255.0 270.1,255.4 270.7,256.2 271.3,258.2 271.9,258.9 272.5,257.0 273.1,255.8 273.6,256.3 274.2,256.4 274.7,257.9 275.3,258.4 275.8,258.1 276.3,257.6 276.8,258.3 277.4,259.0 277.9,260.6 278.4,260.6 278.9,260.5 279.5,259.4 280.1,258.4 280.7,258.4 281.2,257.3 281.8,257.0 282.4,256.2 283.0,254.1 283.6,253.4 284.1,255.4 284.7,256.4 285.2,257.3 285.7,257.2 286.2,258.0 286.8,256.4 287.3,257.3 287.8,255.9 288.3,256.6 288.8,255.4 289.3,256.3 289.9,254.5 290.4,255.0 290.9,254.1 291.4,253.4 291.9,254.0 292.4,253.0 292.9,252.9 293.5,252.8 294.0,253.8 294.5,253.1 295.1,253.0 295.7,253.4 296.3,252.9 296.9,251.9 297.5,250.3 298.0,250.2 298.6,248.5 299.2,248.4 299.8,247.8 300.4,248.1 301.0,249.9 301.6,249.5 302.2,250.0 302.8,250.1 303.3,249.2 303.9,249.5 304.4,255.6 305.0,261.2 305.5,263.3 306.1,264.1 306.6,265.9 307.1,263.3 307.6,260.0 308.1,257.8 308.8,263.4 309.4,270.6 310.0,271.0 310.6,272.9 311.2,273.0 311.8,272.1 312.3,271.7 312.8,269.7 313.3,268.8 313.9,268.6 314.5,269.8 315.0,270.2 315.6,269.8 316.1,268.2 316.7,268.8 317.2,267.8 317.8,267.3 318.4,267.7 318.9,269.4 319.5,269.0 320.1,268.7 320.7,269.7 321.3,271.7 321.9,271.4 322.5,271.0 323.0,270.1 323.6,269.9 324.2,270.3 324.8,269.8 325.4,270.8 326.0,269.5 326.6,270.3 327.2,271.8 327.8,271.4 328.3,273.2 328.9,273.0 329.5,275.0 330.1,275.0 330.7,276.1 331.2,277.7 331.8,278.2 332.4,278.1 333.0,279.7 333.6,280.0 334.1,278.8 334.6,278.4 335.1,280.0 335.6,278.8 336.1,278.6 336.7,279.4 337.2,279.4 337.8,279.4 338.3,280.0 338.8,279.4 339.3,281.2 339.8,281.5 340.3,280.8 340.9,278.2 341.6,273.1 342.2,270.3 342.8,270.2 343.4,271.5 343.9,272.6 344.5,272.2 345.1,272.9 345.7,273.7 346.3,274.2 346.9,274.5 347.5,272.9 348.0,272.2 348.6,270.6 349.2,269.8 349.8,268.2 350.4,266.7 351.0,265.9 351.6,265.2 352.2,265.8 352.8,264.6 353.3,264.7 353.9,264.1 354.5,263.5 355.1,263.1 355.7,261.2 356.2,260.5 356.8,259.2 357.4,258.4 358.0,257.5 358.6,256.9 359.2,257.3 359.8,257.1 360.3,255.7 360.9,255.8 361.5,254.1 362.1,253.1 362.7,251.8 363.3,250.3 363.9,249.3 364.5,247.5 365.0,245.9 365.6,245.6 366.2,239.5 366.9,234.4 367.4,239.2 368.0,245.6 368.6,244.5 369.1,242.4 369.7,241.3 370.3,240.9 370.9,240.4 371.4,239.0 372.0,239.2 372.5,237.9 373.1,237.2 373.7,237.3 374.2,235.4 374.8,235.5 375.3,235.5 375.9,233.6 376.4,234.7 377.0,233.3 377.5,230.6 378.1,229.6 378.6,227.0 379.1,228.5 379.7,228.7 380.2,228.6 380.7,227.5 381.2,226.3 381.7,226.2 382.2,226.8 382.8,228.1 383.3,227.8 383.9,226.4 384.5,226.6 385.0,224.2 385.6,223.9 386.2,225.5 386.8,224.6 387.4,225.9 388.0,227.0 388.5,228.8 389.0,229.7 389.5,230.2 390.1,229.4 390.7,227.7 391.3,225.9 391.9,223.9 392.5,223.7 393.0,222.1 393.6,222.0 394.2,221.6 394.8,219.8 395.4,219.7 396.0,218.4 396.6,216.9 397.1,214.1 397.6,211.3 398.1,209.8 398.6,210.9 399.2,210.9 399.7,210.6 400.2,212.3 400.7,213.8 401.2,215.3 401.8,216.4 402.4,216.0 403.0,216.3 403.6,216.9 404.2,217.6 404.8,218.4 405.3,218.9 405.9,220.8 406.5,220.5 407.1,219.4 407.7,219.1 408.3,218.4 408.8,217.2 409.3,217.4 409.9,216.6 410.4,216.2 410.9,216.0 411.4,216.1 411.9,216.3 412.4,215.1 412.9,214.7 413.5,214.7 414.0,213.6 414.5,213.8 415.1,213.0 415.7,214.2 416.3,214.3 416.9,214.5 417.5,214.0 418.0,212.8 418.6,212.5 419.2,211.4 419.8,210.3 420.4,207.8 421.0,206.7 421.6,205.2 422.2,202.8 422.8,200.0 423.3,198.0 423.9,195.8 424.5,194.7 425.1,194.2 425.7,193.1 426.2,191.1 426.9,190.1 427.5,190.3 428.1,189.5 428.6,185.3 429.2,182.0 429.7,179.4 430.2,181.0 430.7,183.2 431.2,183.4 431.7,185.6 432.3,186.9 432.9,187.9 433.5,187.6 434.1,188.8 434.6,187.0 435.1,185.2 435.6,182.5 436.2,183.4 436.8,185.2 437.4,186.5 438.0,187.2 438.6,188.0 439.1,189.0 439.7,189.7 440.3,189.5 440.9,189.6 441.5,188.1 442.1,186.6 442.7,186.4 443.3,185.6 443.9,185.3 444.5,185.5 445.0,185.3 445.5,185.4 446.0,183.7 446.5,184.3 447.1,178.9 447.8,172.9 448.3,168.0 448.8,162.1 449.3,157.1 449.9,156.1 450.4,154.4 451.0,154.0 451.6,156.6 452.2,158.4 452.8,157.1 453.3,158.4 453.9,157.1 454.5,153.9 455.1,149.5 455.6,149.1 456.1,147.8 456.6,147.6 457.3,147.8 457.9,146.4 458.4,146.6 458.9,144.4 459.4,144.5 459.9,146.6 460.4,147.6 461.0,155.0 461.7,161.4 462.3,167.9 463.0,172.7 463.6,176.7 464.2,174.1 464.9,171.7 465.4,172.2 465.9,172.0 466.4,170.7 466.9,171.2 467.4,170.4 468.0,177.8 468.6,185.6 469.3,180.7 469.9,176.8 470.6,172.9 471.2,173.0 471.8,175.3 472.4,175.4 472.9,178.5 473.4,179.1 473.9,182.3 474.4,184.3 475.0,185.4 475.6,186.1 476.2,188.1 476.9,188.5 477.5,189.3 478.1,190.6 478.8,189.2 479.4,186.8 479.9,182.7 480.4,179.9 480.9,177.3 481.5,184.5 482.2,191.9 482.7,194.8 483.3,199.7 483.8,203.2 484.4,202.6 485.1,202.2 485.7,200.7 486.3,197.4 487.0,194.8 487.6,192.5 488.1,192.1 488.6,191.1 489.1,191.2 489.6,190.0 490.1,190.0 490.7,192.2 491.4,194.4 492.0,195.7 492.5,197.3 493.0,198.6 493.6,198.8 494.1,199.7 494.6,200.7 495.0,204.4 495.5,205.2 496.0,205.2 496.6,204.9 497.1,204.7 497.6,204.7 498.1,205.2 498.6,205.0 499.2,206.8 499.7,206.0 500.2,207.7 500.7,207.9 501.2,208.3 501.8,208.0 502.3,206.4 502.8,205.7 503.3,202.9 503.9,202.4 504.4,201.2 505.0,202.6 505.5,203.2 506.1,204.7 506.7,205.9 507.3,207.0 507.9,208.7 508.5,209.1 509.1,211.4 509.7,209.1 510.2,207.0 510.8,204.6 511.4,202.8 512.0,200.5 512.6,199.0 513.2,196.7 513.8,194.2 514.3,193.8 514.9,193.7 515.5,192.8 516.1,192.7 516.6,193.9 517.2,195.4 517.7,198.1 518.3,196.5 518.9,195.9 519.4,195.3 520.0,193.4 520.5,192.3 521.1,190.0 521.6,189.2 522.2,186.5 522.7,184.9 523.3,181.9 523.9,177.5 524.5,174.0 525.1,176.3 525.7,178.5 526.3,179.4 526.9,175.4 527.5,171.6 528.1,168.6 528.7,175.5 529.3,181.9 529.9,188.5 530.5,196.3 531.2,204.7 531.8,208.9 532.4,214.8 533.0,220.1 533.6,217.8 534.2,215.7 534.8,213.8 535.4,213.2 536.0,211.5 536.6,210.1 537.2,209.5 537.8,208.7 538.4,206.9 539.0,210.0 539.6,212.1 540.2,214.7 540.8,215.6 541.4,215.9 542.0,216.3 542.6,216.5 543.1,215.8 543.7,214.5 544.2,214.0 544.8,213.2 545.3,212.0 545.8,211.2 546.4,209.3 546.9,207.7 547.5,205.9 548.0,203.8 548.6,207.1 549.2,209.5 549.8,212.0 550.3,212.1 550.9,212.3 551.4,213.4 552.0,214.1 552.5,213.8 553.0,213.7 553.6,212.7 554.1,213.9 554.7,213.0 555.2,212.9 555.7,213.6 556.3,213.5 556.8,215.1 557.4,216.2 557.9,216.5 558.4,217.3 559.0,218.0 559.5,219.5 560.1,219.2 560.6,221.0 561.2,223.4 561.8,226.6 562.4,228.2 563.0,225.3 563.6,221.4 564.2,218.3 564.8,219.7 565.3,220.7 565.9,221.0 566.4,222.1 567.0,223.7 567.5,224.6 568.0,223.5 568.5,223.3 569.1,224.8 569.6,224.4 570.1,224.2 570.6,224.6 571.1,226.4 571.7,228.6 572.2,229.4 572.7,231.8 573.3,230.1 573.9,228.2 574.5,226.3 575.1,223.7 575.6,223.6 576.2,224.6 576.7,224.3 577.3,225.3 577.8,225.5 578.3,224.2 578.9,224.6 579.4,224.0 580.0,222.3 580.5,221.9 581.0,220.8 581.6,221.7 582.1,220.7 582.7,220.4 583.2,219.2 583.7,219.0 584.3,221.4 584.8,221.6 585.4,221.7 585.9,222.8 586.4,224.1 587.0,226.2 587.5,227.7 588.1,228.0 588.6,230.0 589.1,229.7 589.7,228.3 590.2,229.3 590.8,227.7 591.3,227.3 591.8,229.0 592.4,229.5 592.9,230.2 593.5,230.4 594.0,231.8 594.5,231.3 595.1,230.0 595.6,229.5 596.2,230.0 596.8,229.1 597.3,227.9 597.9,227.8 598.4,225.9 599.0,225.9 599.5,224.6 600.0,224.6 600.5,223.5 601.0,222.7 601.6,222.9 602.1,222.7 602.6,221.5 603.1,221.9 603.6,221.7 604.1,221.8 604.6,223.2 605.2,224.2 605.7,223.3 606.2,223.3 606.7,224.6 607.2,225.2 607.7,225.7 608.2,226.3 608.8,225.8 609.3,225.6 609.8,226.8 610.3,226.4 610.8,225.2 611.3,225.7 611.8,224.1 612.4,224.2 612.9,223.8 613.4,223.1 613.9,222.8 614.4,222.6 614.9,223.1 615.4,224.6 616.0,224.3 616.5,224.9 617.0,224.6 617.5,225.5 618.0,225.5 618.5,224.4 619.0,224.5 619.6,224.7 620.1,224.5 620.6,222.3 621.1,222.8 621.6,223.7 622.2,224.2 622.7,223.5 623.3,224.0 623.8,224.6 624.3,223.9 624.9,223.6 625.4,221.7 626.0,221.7 626.5,220.1 627.0,221.1 627.6,220.5 628.1,222.5 628.7,221.3 629.2,222.8 629.8,221.7 630.4,222.2 631.0,220.6 631.5,220.8 632.1,219.8 632.7,220.0 633.2,220.3 633.8,219.2 634.3,220.0 634.9,218.3 635.4,218.4 636.0,219.8 636.5,218.3 637.0,218.8 637.6,218.5 638.1,218.4 638.7,218.3 639.2,219.2 639.7,220.0 640.2,220.7 640.7,221.1 641.3,221.9 641.8,222.1 642.3,222.1 642.8,222.8 643.3,223.2 643.8,223.9 644.3,223.5 644.9,222.8 645.4,222.6 645.9,224.4 646.4,223.7 646.9,224.3 647.4,224.2 647.9,225.1 648.5,225.4 649.0,225.7 649.5,225.2 650.0,226.4 650.5,226.6 651.0,227.3 651.5,227.4 652.1,229.2 652.6,228.8 653.1,229.8 653.6,230.0 654.1,230.8 654.6,231.2 655.2,231.6 655.7,232.0 656.2,231.5 656.7,233.2 657.2,232.7 657.8,232.9 658.4,235.3 658.9,236.1 659.5,237.0 660.0,237.2 660.6,238.6 661.1,241.0 661.7,244.6 662.3,246.3 662.8,244.0 663.4,241.5 664.0,240.4 664.5,237.2 665.1,235.1 665.7,234.9 666.3,233.6 666.8,233.7 667.4,233.3 667.9,233.9 668.5,234.7 669.0,234.5 669.5,234.9 670.0,233.8 670.5,231.3 671.1,230.7 671.7,228.3 672.2,227.5 672.8,227.8 673.4,226.1 674.0,226.6 674.6,228.0 675.1,230.9 675.7,233.8 676.3,235.6 676.9,233.7 677.5,231.9 678.1,231.1 678.6,231.1 679.2,230.6 679.7,230.2 680.3,228.6 680.8,228.4 681.3,227.5 681.8,226.4 682.3,226.2 682.9,225.0 683.4,224.2 683.9,224.3 684.4,223.0 685.0,224.8 685.5,225.0 686.1,224.9 686.6,226.9 687.2,227.5 687.7,226.9 688.3,227.3 688.8,226.3 689.4,226.0 689.9,224.8 690.4,225.5 691.0,225.6 691.5,226.6 692.1,226.9 692.6,226.6 693.1,226.2 693.7,225.9 694.2,226.4 694.8,226.6 695.3,226.6 695.8,226.1 696.3,226.8 696.8,227.5 697.4,226.8 697.9,228.5 698.4,228.4 698.9,228.4 699.4,227.5 700.0,226.9 700.5,226.5 701.1,225.9 701.6,225.7 702.2,224.1 702.8,221.5 703.4,219.4 704.0,220.9 704.6,221.7 705.2,223.9 705.7,224.6 706.2,223.3 706.7,223.2 707.3,222.6 707.8,224.2 708.3,223.1 708.8,223.0 709.3,223.6 709.9,223.5 710.4,223.4 711.0,222.9 711.5,222.1 712.0,222.0 712.6,221.1 713.1,220.0 713.7,217.8 714.2,217.6 714.8,216.7 715.3,215.9 715.9,215.8 716.4,214.5 717.0,213.1 717.5,213.5 718.1,213.6 718.6,212.8 719.2,213.9 719.7,213.1 720.3,213.7 720.9,213.5 721.5,214.0 722.1,212.8 722.6,212.6 723.2,210.6 723.8,209.4 724.3,210.0 724.8,211.3 725.3,213.6 725.8,214.6 726.3,215.8 726.9,215.7 727.5,213.4 728.1,212.9 728.7,212.2 729.2,213.0 729.8,212.1 730.3,212.5 730.9,213.7 731.4,214.0 731.9,213.7 732.5,213.6 733.0,214.1 733.6,215.0 734.1,214.9 734.6,215.5 735.2,215.2 735.7,215.7 736.3,217.7 736.8,217.6 737.3,217.9 737.9,217.0 738.4,218.3 739.0,216.7 739.5,217.6 740.1,217.6 740.7,218.9 741.3,218.5 741.8,220.2 742.4,220.6 742.9,223.0 743.5,223.7 744.0,224.8 744.6,224.0 745.2,222.5 745.9,220.3 746.4,221.1 746.9,222.4 747.5,223.1 748.0,224.7 748.5,224.8 749.1,225.7 749.6,225.9 750.2,226.5 750.8,227.2 751.3,226.6 751.8,226.5 752.3,226.8 752.8,228.2 753.4,228.7 753.9,228.6 754.4,228.9 754.9,229.3 755.4,228.2 756.0,228.2 756.5,227.2 757.1,225.9 757.6,224.8 758.1,223.0 758.7,223.7 759.2,222.0 759.8,220.6 760.3,220.3 760.8,220.2 761.3,221.2 761.8,220.1 762.4,220.6 762.9,221.2 763.4,222.6 763.9,222.1 764.4,222.8 764.9,223.5 765.4,223.0 766.0,223.3 766.5,223.5 767.0,223.7 767.5,223.9 768.0,223.1 768.6,222.7 769.1,222.1 769.7,220.1 770.2,219.4 770.7,219.5 771.2,218.8 771.7,218.6 772.3,218.9 772.8,218.9 773.3,218.7 773.8,218.5 774.3,219.0 774.9,217.1 775.4,217.7 776.0,218.0 776.5,216.7 777.1,218.9 777.8,220.4 778.4,222.1 778.9,222.4 779.5,223.0 780.0,224.5 780.6,225.0 781.1,224.8 781.7,226.9 782.3,229.2 782.9,230.2 783.5,233.7 784.1,235.6 784.7,235.6 785.3,234.0 785.9,233.5 786.5,232.9 787.0,233.8 787.6,233.4 788.1,234.5 788.7,234.3 789.2,234.7 789.7,235.8 790.3,237.5 790.8,238.4 791.4,240.3 791.9,242.0 792.4,243.3 793.0,244.0 793.5,245.7 794.1,247.3 794.6,249.2 795.2,252.9 795.8,255.4 796.4,258.2 797.0,260.9 797.5,265.4 798.0,267.2 798.6,270.8 799.2,266.6 799.8,262.9 800.4,258.2 801.0,257.9 801.5,256.7 802.1,256.7 802.7,255.5 803.3,252.8 803.9,250.5 804.5,247.4 805.0,249.4 805.6,252.3 806.1,253.8 806.7,254.5 807.2,257.3 807.8,257.5 808.3,260.0 808.9,259.5 809.4,260.0 810.0,261.8 810.6,263.4 811.2,266.0 811.7,268.6 812.1,272.2 812.6,274.0 813.0,277.6 813.5,281.5 814.0,273.7 814.5,265.1 815.1,265.4 815.8,264.5 816.5,268.5 817.1,274.0 817.7,272.9 818.4,272.4 819.0,270.2 819.6,269.9 820.2,269.4 820.9,268.9 821.5,271.1 822.1,274.8 822.8,276.5 823.4,276.3 824.0,273.6 824.6,273.3 825.2,272.4 825.9,271.1 826.5,270.2 827.1,273.3 827.8,274.9 828.4,278.4 828.9,277.1 829.4,276.2 830.0,275.7 830.5,275.4 831.0,274.0 831.6,273.8 832.3,272.8 832.9,271.4 833.4,269.4 833.9,266.0 834.4,264.5 834.9,266.2 835.5,268.6 836.0,270.2 836.6,270.8 837.3,272.3 837.9,273.3 838.5,275.1 839.2,274.7 839.8,276.5 840.4,278.0 841.1,277.4 841.7,279.0 842.4,292.1 843.0,305.6 843.6,301.9 844.2,296.7 844.8,297.0 845.5,298.4 846.1,299.2 846.7,300.3 847.4,302.5 848.0,303.0 848.6,300.8 849.3,296.3 849.9,293.5 850.5,294.1 851.2,295.5 851.8,295.4 852.4,296.4 853.1,296.6 853.7,298.0 854.3,296.6 855.0,293.9 855.6,292.3 856.2,293.3 856.9,293.4 857.5,295.4 858.1,292.1 858.8,287.3 859.4,282.8 859.9,282.8 860.4,282.2 860.9,280.1 861.4,279.8 861.9,279.0 862.5,276.8 863.2,275.3 863.8,272.7 864.4,273.2 865.1,271.8 865.7,272.1 866.3,270.8 867.0,270.8 867.6,269.5 868.2,273.1 868.9,277.1 869.5,278.5 870.2,280.7 870.8,283.4 871.4,285.0 872.1,286.6 872.7,287.9 873.3,290.0 874.0,290.5 874.6,291.6 875.2,293.1 875.9,293.5 876.5,295.4 877.1,298.4 877.7,301.8 878.3,301.4 879.0,302.2 879.6,301.8 880.1,302.4 880.6,303.8 881.2,304.4 881.7,305.7 882.3,307.0 882.8,307.9 883.4,309.3 883.9,308.2 884.4,306.1 885.0,306.1 885.5,304.5 886.0,302.8 886.5,305.4 887.0,307.1 887.5,310.1 888.0,313.0 888.5,315.1 889.0,316.7 889.5,318.8 890.0,319.9 890.5,322.8 891.1,323.9 891.6,326.4 892.2,328.2 892.7,330.7 893.3,325.8 893.9,321.5 894.5,318.0 895.1,316.6 895.7,315.4 896.3,315.3 896.9,319.9 897.5,324.8 898.1,328.9 898.7,325.4 899.3,322.0 899.9,318.0 900.4,316.4 901.0,315.3 901.5,314.9 902.1,314.4 902.6,312.6 903.1,313.5 903.7,313.8 904.2,314.9 904.8,316.6 905.3,318.0 905.9,321.0 906.5,322.7 907.1,326.2 907.7,325.1 908.2,325.5 908.8,325.5 909.3,323.7 909.9,323.5 910.4,322.1 911.0,320.3 911.5,317.8 912.0,317.1 912.6,318.9 913.2,320.7 913.8,323.5 914.3,327.2 914.8,332.4 915.3,336.1 915.9,340.0 916.5,342.4 917.1,346.9 917.6,348.3 918.2,351.7 918.7,352.7 919.3,355.3 919.8,357.8 920.3,358.1 920.9,358.4 921.4,359.1 922.0,360.0 922.5,361.4 923.1,364.8 923.7,369.4 924.3,372.2 924.9,368.3 925.5,363.3 926.1,359.6 926.7,355.1 927.3,349.5 927.9,345.1 928.5,349.2 929.0,352.9 929.5,358.2 930.1,361.4 930.6,366.0" fill="none" stroke="#808080" stroke-width="1.85" stroke-linejoin="round"/>
<rect x="54.6" y="517.7" width="53.6" height="10.8" fill="#ddd9c4" stroke="#a8a17a" stroke-width="1.2"/>
<line x1="380.8" y1="523" x2="433.7" y2="523" stroke="#c0504d" stroke-width="2.8" stroke-linecap="round"/>
<line x1="682" y1="523" x2="735.5" y2="523" stroke="#808080" stroke-width="1.4"/>
</svg>
</body></html>
